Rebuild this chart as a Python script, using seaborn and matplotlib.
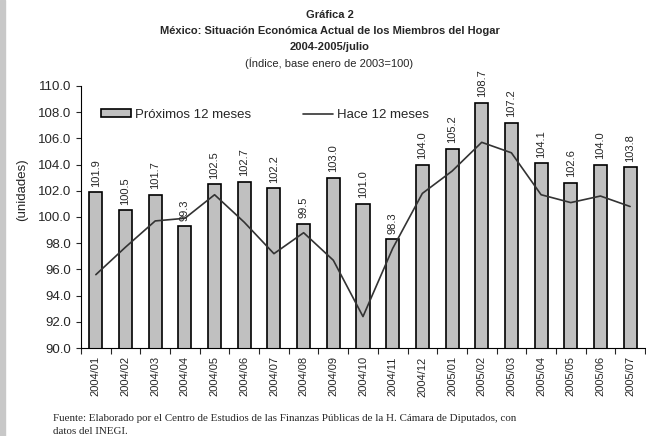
import matplotlib
matplotlib.use("Agg")
import matplotlib.pyplot as plt
import numpy as np
import pandas as pd
import seaborn as sns
from matplotlib.patches import Patch
from matplotlib.lines import Line2D

# Datos
periodos = [
    "2004/01", "2004/02", "2004/03", "2004/04", "2004/05", "2004/06",
    "2004/07", "2004/08", "2004/09", "2004/10", "2004/11", "2004/12",
    "2005/01", "2005/02", "2005/03", "2005/04", "2005/05", "2005/06",
    "2005/07",
]
proximos_12 = [101.9, 100.5, 101.7, 99.3, 102.5, 102.7, 102.2, 99.5, 103.0,
               101.0, 98.3, 104.0, 105.2, 108.7, 107.2, 104.1, 102.6, 104.0,
               103.8]
hace_12 = [95.6, 97.7, 99.7, 99.9, 101.7, 99.6, 97.2, 98.8, 96.7, 92.4,
           97.6, 101.8, 103.5, 105.7, 104.9, 101.7, 101.1, 101.6, 100.8]
y_ticks = np.arange(90, 110.1, 2)

df = pd.DataFrame({"periodo": periodos, "proximos": proximos_12, "hace": hace_12})

sns.set_style("ticks")
plt.rcParams["font.family"] = ["Liberation Sans", "DejaVu Sans"]

fig = plt.figure(figsize=(6.46, 4.36), dpi=100)
ax = fig.add_axes([0.1254, 0.2018, 0.873, 0.601])

# franja gris a la izquierda
fig.patches.append(plt.Rectangle((0, 0), 5 / 646, 1, transform=fig.transFigure,
                                 color="#c8c8c8", zorder=0))

sns.barplot(data=df, x="periodo", y="proximos", color="#c0c0c0", saturation=1,
            edgecolor="black", linewidth=1.2, width=0.44, ax=ax, zorder=2)
sns.lineplot(data=df, x="periodo", y="hace", color="#333333", linewidth=1.2,
             sort=False, ax=ax, zorder=3)

ax.bar_label(ax.containers[0], fmt="%.1f", rotation=90, padding=4, fontsize=8)

ax.set_ylim(90, 110)
ax.set_xlim(-0.5, len(periodos) - 0.5)
ax.set_yticks(y_ticks)
ax.set_yticklabels([f"{v:.1f}" for v in y_ticks], fontsize=9.5)
ax.set_xticks(np.arange(len(periodos)))
ax.set_xticklabels(periodos, rotation=90, fontsize=8)
ax.set_xticks(np.arange(len(periodos) + 1) - 0.5, minor=True)
ax.tick_params(axis="x", which="major", length=0, pad=6)
ax.tick_params(axis="x", which="minor", length=4, width=0.8, direction="out")
ax.tick_params(axis="y", length=3.6, width=0.8, direction="out", pad=3.6)
ax.set_xlabel("")
ax.set_ylabel("")
for s in ["top", "right"]:
    ax.spines[s].set_visible(False)
for s in ["left", "bottom"]:
    ax.spines[s].set_color("black")
    ax.spines[s].set_linewidth(0.8)

fig.text(22 / 646, 1 - 190 / 436, "(unidades)", rotation=90, ha="center",
         va="center", fontsize=9.5)

handles = [
    Patch(facecolor="#c0c0c0", edgecolor="black", linewidth=1.2),
    Line2D([], [], color="#333333", linewidth=1.2),
]
ax.legend(handles, ["Próximos 12 meses", "Hace 12 meses"], ncol=2,
          frameon=False, fontsize=9.5, loc="center left",
          bbox_to_anchor=(0.0355, 0.889), borderaxespad=0, borderpad=0,
          columnspacing=3.9, handlelength=2.3, handleheight=0.55,
          handletextpad=0.3)

# títulos
fig.text(0.51, 0.965, "Gráfica 2", ha="center", va="center", fontsize=8,
         fontweight="bold")
fig.text(0.51, 0.928, "México: Situación Económica Actual de los Miembros del Hogar",
         ha="center", va="center", fontsize=8, fontweight="bold")
fig.text(0.51, 0.892, "2004-2005/julio", ha="center", va="center", fontsize=8,
         fontweight="bold")
fig.text(0.51, 0.855, "(Índice, base enero de 2003=100)", ha="center",
         va="center", fontsize=8)

# fuente
fig.text(53 / 646, 1 - 421 / 436, "Fuente: Elaborado por el Centro de Estudios de "
         "las Finanzas Públicas de la H. Cámara de Diputados, con", fontsize=7.9,
         family=["Liberation Serif"], va="baseline")
fig.text(53 / 646, 1 - 434 / 436, "datos del INEGI.", fontsize=7.9,
         family=["Liberation Serif"], va="baseline")

fig.savefig("out.png", dpi=100)
